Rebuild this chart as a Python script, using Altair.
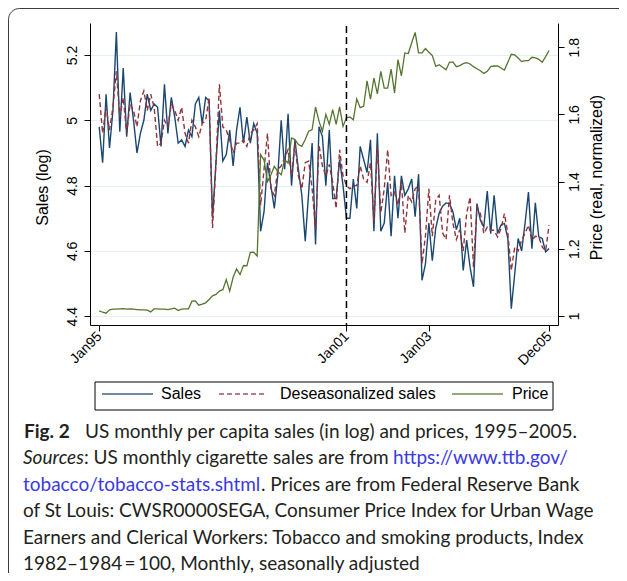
import altair as alt
import pandas as pd

# ---------------- data ----------------
months = list(range(132))  # 0 = Jan 1995 ... 131 = Dec 2005

sales = [
    4.98, 4.87, 5.08, 4.915, 5.03, 5.27, 4.965, 5.16, 4.95, 5.085, 5.00, 4.90,
    4.96, 5.00, 5.08, 5.03, 5.05, 5.04, 4.92, 5.11, 4.96, 5.07, 5.01, 4.93,
    4.94, 4.92, 4.97, 4.95, 5.05, 5.07, 4.99, 5.07, 5.06, 4.70, 4.87, 5.03,
    4.875, 4.895, 4.97, 4.86, 4.97, 5.04, 4.93, 5.01, 4.93, 4.99, 4.96, 4.66,
    4.72, 4.87, 4.80, 4.73, 4.83, 5.00, 4.85, 5.02, 4.80, 4.94, 4.85, 4.77,
    4.63, 4.78, 4.93, 4.62, 4.98, 4.95, 4.80, 4.97, 4.76, 4.76, 4.88, 4.80,
    4.70, 4.70, 4.82, 4.73, 4.92, 4.88, 4.84, 4.94, 4.66, 4.96, 4.66, 4.685,
    4.81, 4.645, 4.83, 4.70, 4.83, 4.77, 4.79, 4.82, 4.705, 4.835, 4.51, 4.56,
    4.685, 4.57, 4.67, 4.716, 4.737, 4.747, 4.745, 4.72, 4.665, 4.70, 4.54, 4.633,
    4.55, 4.49, 4.745, 4.694, 4.673, 4.783, 4.653, 4.77, 4.653, 4.679, 4.684, 4.638,
    4.423, 4.53, 4.638, 4.60, 4.684, 4.78, 4.607, 4.747, 4.643, 4.638, 4.597, 4.607,
]

deseason = [
    5.08, 4.96, 5.04, 4.97, 5.04, 5.15, 5.01, 5.07, 4.96, 5.05, 5.03, 4.98,
    5.06, 5.09, 5.03, 5.08, 5.04, 4.92, 4.93, 5.00, 4.98, 5.05, 5.03, 5.00,
    5.04, 4.96, 4.93, 5.00, 4.98, 4.95, 4.99, 5.00, 5.07, 4.67, 4.87, 5.11,
    4.98, 4.97, 4.94, 4.90, 4.93, 4.93, 4.94, 4.92, 4.96, 4.97, 4.99, 4.74,
    4.85, 4.96, 4.79, 4.77, 4.85, 4.86, 4.885, 4.91, 4.83, 4.93, 4.83, 4.79,
    4.87, 4.875, 4.79, 4.665, 4.925, 4.86, 4.83, 4.865, 4.81, 4.73, 4.91, 4.83,
    4.80, 4.79, 4.80, 4.80, 4.86, 4.82, 4.81, 4.87, 4.69, 4.92, 4.716, 4.79,
    4.91, 4.77, 4.78, 4.74, 4.81, 4.655, 4.77, 4.75, 4.79, 4.80, 4.56, 4.645,
    4.79, 4.645, 4.757, 4.77, 4.655, 4.635, 4.77, 4.685, 4.635, 4.665, 4.60, 4.714,
    4.765, 4.55, 4.735, 4.714, 4.653, 4.673, 4.663, 4.663, 4.643, 4.668, 4.714, 4.653,
    4.54, 4.612, 4.60, 4.633, 4.653, 4.679, 4.633, 4.645, 4.643, 4.612, 4.60, 4.679,
]

price = [
    1.015, 1.011, 1.008, 1.018, 1.020, 1.020, 1.021, 1.022, 1.020, 1.021, 1.020, 1.019,
    1.018, 1.018, 1.017, 1.012, 1.021, 1.021, 1.020, 1.020, 1.019, 1.021, 1.023, 1.016,
    1.020, 1.021, 1.021, 1.044, 1.045, 1.032, 1.035, 1.039, 1.049, 1.060, 1.064, 1.074,
    1.078, 1.108, 1.074, 1.115, 1.140, 1.123, 1.150, 1.149, 1.189, 1.190, 1.178, 1.480,
    1.464, 1.400, 1.420, 1.445, 1.430, 1.420, 1.465, 1.455, 1.530, 1.525, 1.510, 1.505,
    1.525, 1.550, 1.555, 1.622, 1.580, 1.550, 1.600, 1.570, 1.614, 1.570, 1.622, 1.564,
    1.590, 1.592, 1.584, 1.646, 1.620, 1.624, 1.700, 1.645, 1.708, 1.661, 1.728, 1.678,
    1.678, 1.735, 1.664, 1.763, 1.715, 1.783, 1.781, 1.813, 1.844, 1.783, 1.783, 1.796,
    1.785, 1.775, 1.743, 1.748, 1.740, 1.733, 1.755, 1.756, 1.742, 1.745, 1.751, 1.754,
    1.750, 1.742, 1.736, 1.730, 1.722, 1.728, 1.742, 1.744, 1.744, 1.738, 1.732, 1.755,
    1.779, 1.777, 1.768, 1.757, 1.760, 1.760, 1.770, 1.768, 1.764, 1.755, 1.772, 1.790,
]

tick_months = [0, 72, 96, 131]
tick_labels = ["Jan95", "Jan01", "Jan03", "Dec05"]
sales_ticks = [4.4, 4.6, 4.8, 5.0, 5.2]
price_ticks = [1.0, 1.2, 1.4, 1.6, 1.8]
break_month = [72]
legend_labels = ["Sales", "Deseasonalized sales", "Price"]

caption_fig = "Fig. 2"
caption_l1 = "US monthly per capita sales (in log) and prices, 1995\u20132005."
caption_src = "Sources"
caption_l2 = ": US monthly cigarette sales are from "
caption_url1 = "https://www.ttb.gov/"
caption_url2 = "tobacco/tobacco-stats.shtml"
caption_l3 = ". Prices are from Federal Reserve Bank"
caption_l4 = "of St Louis: CWSR0000SEGA, Consumer Price Index for Urban Wage"
caption_l5 = "Earners and Clerical Workers: Tobacco and smoking products, Index"
caption_l6 = "1982\u20131984\u2009=\u2009100, Monthly, seasonally adjusted"

# ---------------- styling ----------------
NAVY = "#1a476f"
MAROON = "#90353b"
GREEN = "#55752f"
GRID = "#e6eef0"
AX_FONT = "Liberation Sans"
CAP_FONT = "Lato"
CAP_COLOR = "#231f20"
LINK = "#3a3ae0"

W, H = 468, 302

df = pd.DataFrame({"m": months, "sales": sales, "deseason": deseason, "price": price})
brk = pd.DataFrame({"m": break_month})
one = alt.InlineData(values=[{"k": 1}])

label_expr = " : ".join(
    f"datum.value == {m} ? '{l}'" for m, l in zip(tick_months, tick_labels)
) + " : ''"

xscale = alt.Scale(domain=[-2.68, 133.6], nice=False, zero=False)
xaxis = alt.Axis(
    values=tick_months, labelExpr=label_expr, title=None, grid=False,
    labelAngle=-45, labelAlign="right", labelBaseline="middle",
    tickSize=6, labelPadding=3, labelFontSize=14, labelFont=AX_FONT,
    labelColor="black", domainColor="black", tickColor="black",
    labelOverlap=False, labelFlush=False,
)
yscale = alt.Scale(domain=[4.373, 5.298], nice=False, zero=False)
pscale = alt.Scale(domain=[0.973, 1.872], nice=False, zero=False)

left_axis = alt.Axis(
    orient="left", values=sales_ticks, format="~g", title="Sales (log)",
    grid=True, gridColor=GRID, gridWidth=1,
    labelAngle=270, labelAlign="center", labelBaseline="bottom",
    tickSize=6, labelPadding=5, labelFontSize=14, labelFont=AX_FONT,
    labelColor="black", domainColor="black", tickColor="black",
    titleFont=AX_FONT, titleFontSize=16, titleFontWeight="normal",
    titleColor="black", titleAngle=270, titleAlign="center",
    titleBaseline="middle", titleX=-48, titleY=164,
    labelFlush=False, labelOverlap=False,
)
right_axis = alt.Axis(
    orient="right", values=price_ticks, format="~g",
    title="Price (real, normalized)", grid=False,
    labelAngle=270, labelAlign="center", labelBaseline="top",
    tickSize=6, labelPadding=3, labelFontSize=14, labelFont=AX_FONT,
    labelColor="black", domainColor="black", tickColor="black",
    titleFont=AX_FONT, titleFontSize=16, titleFontWeight="normal",
    titleColor="black", titleAngle=270, titleAlign="center",
    titleBaseline="middle", titleX=38, titleY=154,
    labelFlush=False, labelOverlap=False,
)

frame = alt.Chart(one).mark_rect(
    fill="white", fillOpacity=0, stroke="#3c3c3c", strokeWidth=1, cornerRadius=11
).encode(x=alt.value(-81.5), x2=alt.value(800), y=alt.value(-14.5), y2=alt.value(800))

sales_line = alt.Chart(df).mark_line(color=NAVY, strokeWidth=1.4).encode(
    x=alt.X("m:Q", scale=xscale, axis=xaxis),
    y=alt.Y("sales:Q", scale=yscale, axis=left_axis),
)
des_line = alt.Chart(df).mark_line(color=MAROON, strokeWidth=1.4, strokeDash=[5, 3]).encode(
    x=alt.X("m:Q", scale=xscale, axis=xaxis),
    y=alt.Y("deseason:Q", scale=yscale, axis=None),
)
price_line = alt.Chart(df).mark_line(color=GREEN, strokeWidth=1.3).encode(
    x=alt.X("m:Q", scale=xscale, axis=xaxis),
    y=alt.Y("price:Q", scale=pscale, axis=right_axis),
)
vline = alt.Chart(brk).mark_rule(color="black", strokeWidth=1.5, strokeDash=[7, 4]).encode(
    x=alt.X("m:Q", scale=xscale, axis=xaxis),
    y=alt.value(3), y2=alt.value(H),
)

# ---------------- legend (drawn) ----------------
LY = 371
legend_box = alt.Chart(one).mark_rect(
    fill="white", fillOpacity=0, stroke="black", strokeWidth=1
).encode(x=alt.value(5), x2=alt.value(463), y=alt.value(359), y2=alt.value(387))

def leg_line(x1, x2, color, dash=None):
    kw = dict(color=color, strokeWidth=1.4, opacity=0.85)
    if dash:
        kw["strokeDash"] = dash
    return alt.Chart(one).mark_rule(**kw).encode(
        x=alt.value(x1), x2=alt.value(x2), y=alt.value(LY)
    )

def txt(s, x, y, size, font=AX_FONT, color="black", weight="normal", style="normal"):
    return alt.Chart(one).mark_text(
        text=s, align="left", baseline="middle", font=font, fontSize=size,
        color=color, fontWeight=weight, fontStyle=style,
    ).encode(x=alt.value(x), y=alt.value(y))

legend_layers = [
    legend_box,
    leg_line(12, 63, NAVY),
    txt(legend_labels[0], 71, LY, 16),
    leg_line(129, 176, MAROON, [5, 3]),
    txt(legend_labels[1], 190, LY, 16),
    leg_line(362, 413, GREEN),
    txt(legend_labels[2], 422, LY, 16),
]

# ---------------- caption ----------------
CS = 19
cy = [409, 435, 461.5, 488, 514.5, 540.5]
cx = -67
caption_layers = [
    txt(caption_fig, -66, cy[0], CS, CAP_FONT, CAP_COLOR, weight="bold"),
    txt(caption_l1, -5, cy[0], CS, CAP_FONT, CAP_COLOR),
    txt(caption_src, cx, cy[1], CS, CAP_FONT, CAP_COLOR, style="italic"),
    txt(caption_l2, -6, cy[1], CS, CAP_FONT, CAP_COLOR),
    txt(caption_url1, 303, cy[1], CS, CAP_FONT, LINK),
    txt(caption_url2, cx, cy[2], CS, CAP_FONT, LINK),
    txt(caption_l3, 171, cy[2], CS, CAP_FONT, CAP_COLOR),
    txt(caption_l4, cx, cy[3], CS, CAP_FONT, CAP_COLOR),
    txt(caption_l5, cx, cy[4], CS, CAP_FONT, CAP_COLOR),
    txt(caption_l6, cx, cy[5], CS, CAP_FONT, CAP_COLOR),
]

chart = alt.layer(
    frame, sales_line, des_line, price_line, vline, *legend_layers, *caption_layers
).resolve_scale(y="independent").properties(
    width=W, height=H,
    autosize=alt.AutoSizeParams(type="none"),
    padding={"left": 82, "top": 15, "right": 61, "bottom": 248},
    background="white",
).configure_view(stroke=None)

chart.save("out.html", embed_options={"renderer": "svg", "actions": False})
